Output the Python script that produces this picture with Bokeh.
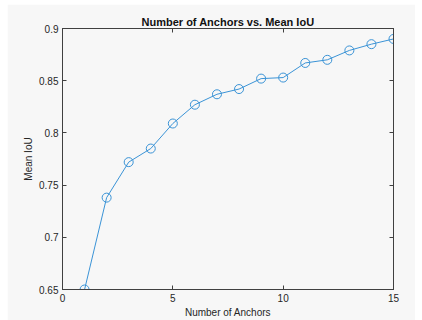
from bokeh.plotting import figure
from bokeh.models import (ColumnDataSource, FixedTicker, LinearAxis, Range1d,
                          CustomJSTickFormatter, CustomLabelingPolicy)
from bokeh.embed import file_html
from bokeh.resources import INLINE

# Mean IoU obtained for each number of anchor boxes
num_anchors = [1, 2, 3, 4, 5, 6, 7, 8, 9, 10, 11, 12, 13, 14, 15]
mean_iou = [0.650, 0.738, 0.772, 0.785, 0.809, 0.827, 0.837, 0.842,
            0.852, 0.853, 0.867, 0.870, 0.879, 0.885, 0.890]
x_ticks = [0, 5, 10, 15]
y_ticks = [0.65, 0.70, 0.75, 0.80, 0.85, 0.90]

FONT = "Liberation Sans"
TEXT = "#262626"
AXIS = "#404040"
BG = "#f7f7f7"
LINE = "#3a93d6"

src = ColumnDataSource(data=dict(x=num_anchors, y=mean_iou))

p = figure(width=408, height=316, output_backend="svg", toolbar_location=None,
           x_range=Range1d(0, 15), y_range=Range1d(0.65, 0.9),
           min_border_left=55, min_border_right=22, min_border_top=24,
           min_border_bottom=28)
p.margin = (4, 7, 0, 7)
p.background_fill_color = BG
p.border_fill_color = BG
p.outline_line_color = AXIS
p.outline_line_width = 1
p.grid.visible = False

p.title.text = "Number of Anchors vs. Mean IoU"
p.title.text_font = FONT
p.title.text_font_size = "11px"
p.title.text_font_style = "bold"
p.title.text_color = "#111111"
p.title.align = "center"
p.title.offset = 0
p.title.standoff = 2

fmt = CustomJSTickFormatter(code="""
    return tick.toFixed(2).replace(/0+$/, '').replace(/\\.$/, '');
""")

for ax in (p.xaxis[0], p.yaxis[0]):
    ax.formatter = fmt
    ax.major_label_text_font = FONT
    ax.major_label_text_font_size = "10px"
    ax.major_label_text_color = TEXT
    ax.axis_label_text_font = FONT
    ax.axis_label_text_font_size = "10px"
    ax.axis_label_text_font_style = "normal"
    ax.axis_label_text_color = TEXT
    ax.axis_line_color = AXIS
    ax.major_tick_line_color = AXIS
    ax.major_tick_in = 4
    ax.major_tick_out = 0
    ax.minor_tick_line_color = None
    ax.major_label_standoff = 4

p.xaxis[0].ticker = FixedTicker(ticks=x_ticks)
p.yaxis[0].ticker = FixedTicker(ticks=y_ticks)
p.xaxis[0].axis_label = "Number of Anchors"
p.xaxis[0].axis_label_standoff = 2
p.yaxis[0].axis_label = "Mean IoU"
p.yaxis[0].axis_label_standoff = 2


def tick_only_axis(ticks):
    # axis on the opposite side of the box: inward ticks, no labels
    no_labels = CustomLabelingPolicy(code="""
        for (const i of [...indices]) indices.unset(i)
        return indices
    """)
    return LinearAxis(ticker=FixedTicker(ticks=ticks), major_label_policy=no_labels,
                      major_label_text_font_size="0px",
                      major_label_standoff=0, axis_line_color=AXIS,
                      major_tick_line_color=AXIS, major_tick_in=4,
                      major_tick_out=0, minor_tick_line_color=None)


p.add_layout(tick_only_axis(x_ticks), "above")
p.add_layout(tick_only_axis(y_ticks), "right")

p.line("x", "y", source=src, line_color=LINE, line_width=1)
p.scatter("x", "y", source=src, marker="circle", size=9, fill_color=None,
          line_color=LINE, line_width=1)

open("out.html", "w").write(file_html(p, INLINE))
